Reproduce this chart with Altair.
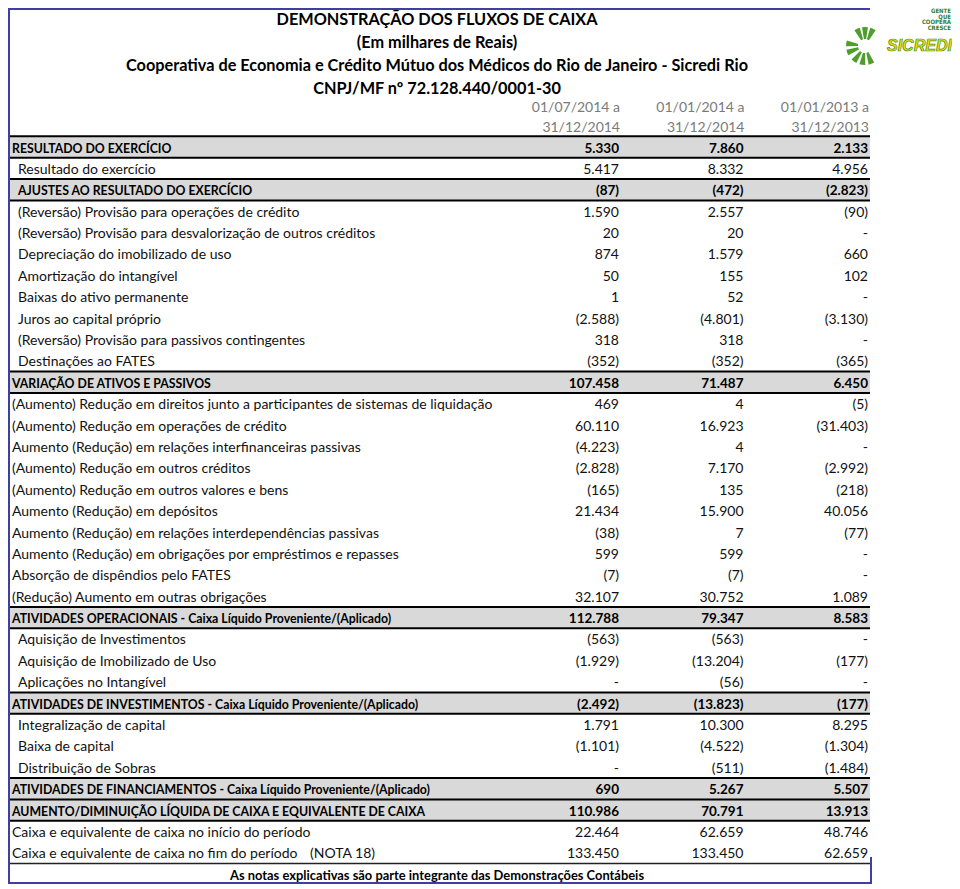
import altair as alt
import pandas as pd

# ---------------- data ----------------
TITLE_LINES = [
    "DEMONSTRAÇÃO DOS FLUXOS DE CAIXA",
    "(Em milhares de Reais)",
    "Cooperativa de Economia e Crédito Mútuo dos Médicos do Rio de Janeiro - Sicredi Rio",
    "CNPJ/MF nº 72.128.440/0001-30",
]
PERIOD_START = ["01/07/2014 a", "01/01/2014 a", "01/01/2013 a"]
PERIOD_END = ["31/12/2014", "31/12/2014", "31/12/2013"]

LABELS = [
    "RESULTADO DO EXERCÍCIO",
    "Resultado do exercício",
    "AJUSTES AO RESULTADO DO EXERCÍCIO",
    "(Reversão) Provisão para operações de crédito",
    "(Reversão) Provisão para desvalorização de outros créditos",
    "Depreciação do imobilizado de uso",
    "Amortização do intangível",
    "Baixas do ativo permanente",
    "Juros ao capital próprio",
    "(Reversão) Provisão para passivos contingentes",
    "Destinações ao FATES",
    "VARIAÇÃO DE ATIVOS E PASSIVOS",
    "(Aumento) Redução em direitos junto a participantes de sistemas de liquidação",
    "(Aumento) Redução em operações de crédito",
    "Aumento (Redução) em relações interfinanceiras passivas",
    "(Aumento) Redução em outros créditos",
    "(Aumento) Redução em outros valores e bens",
    "Aumento (Redução) em depósitos",
    "Aumento (Redução) em relações interdependências passivas",
    "Aumento (Redução) em obrigações por empréstimos e repasses",
    "Absorção de dispêndios pelo FATES",
    "(Redução) Aumento em outras obrigações",
    "ATIVIDADES OPERACIONAIS - Caixa Líquido Proveniente/(Aplicado)",
    "Aquisição de Investimentos",
    "Aquisição de Imobilizado de Uso",
    "Aplicações no Intangível",
    "ATIVIDADES DE INVESTIMENTOS - Caixa Líquido Proveniente/(Aplicado)",
    "Integralização de capital",
    "Baixa de capital",
    "Distribuição de Sobras",
    "ATIVIDADES DE FINANCIAMENTOS - Caixa Líquido Proveniente/(Aplicado)",
    "AUMENTO/DIMINUIÇÃO LÍQUIDA DE CAIXA E EQUIVALENTE DE CAIXA",
    "Caixa e equivalente de caixa no início do período",
    "Caixa e equivalente de caixa no fim do período",
]
COL_2S2014 = ["5.330", "5.417", "(87)", "1.590", "20", "874", "50", "1", "(2.588)", "318", "(352)",
              "107.458", "469", "60.110", "(4.223)", "(2.828)", "(165)", "21.434", "(38)", "599", "(7)", "32.107",
              "112.788", "(563)", "(1.929)", "-", "(2.492)", "1.791", "(1.101)", "-", "690", "110.986",
              "22.464", "133.450"]
COL_2014 = ["7.860", "8.332", "(472)", "2.557", "20", "1.579", "155", "52", "(4.801)", "318", "(352)",
            "71.487", "4", "16.923", "4", "7.170", "135", "15.900", "7", "599", "(7)", "30.752",
            "79.347", "(563)", "(13.204)", "(56)", "(13.823)", "10.300", "(4.522)", "(511)", "5.267", "70.791",
            "62.659", "133.450"]
COL_2013 = ["2.133", "4.956", "(2.823)", "(90)", "-", "660", "102", "-", "(3.130)", "-", "(365)",
            "6.450", "(5)", "(31.403)", "-", "(2.992)", "(218)", "40.056", "(77)", "-", "-", "1.089",
            "8.583", "-", "(177)", "-", "(177)", "8.295", "(1.304)", "(1.484)", "5.507", "13.913",
            "48.746", "62.659"]
SUBTOTAL_ROWS = [0, 2, 11, 22, 26, 30, 31]
INDENTED_ROWS = [1, 2, 3, 4, 5, 6, 7, 8, 9, 10, 23, 24, 25, 27, 28, 29]
NOTE_ROW = 33
NOTE_TEXT = "(NOTA 18)"
FOOTNOTE = "As notas explicativas são parte integrante das Demonstrações Contábeis"
SLOGAN = ["GENTE", "QUE", "COOPERA", "CRESCE"]
BRAND = "SICREDI"
RAY_ANGLES = [335, 0, 25, 250, 278, 160, 188, 216]

# ---------------- style ----------------
FONT = "Lato, sans-serif"
FS = 14
FS_BOLD_LABEL = 12.3
FS_BOLD_VAL = 13.5
DY = 1.5
TEXT_COLOR = "#111111"
BAND_FILL = "#d9d9d9"
BLUE = "#3f3f9f"
GREEN = "#4f9d2d"
DASH_PAD = {"c1": "\u00a0\u00a0\u00a0", "c2": "\u00a0\u00a0", "c3": "\u00a0"}
N_ROWS = len(LABELS)

ROW_SCALE = alt.Scale(domain=[0, 33], range=[139, 844.9], zero=False, nice=False)
COL_SCALE = alt.Scale(type="point", domain=["c1", "c2", "c3"], range=[611, 860], padding=0)
HEAD_COL_SCALE = alt.Scale(type="point", domain=["c1", "c2", "c3"], range=[612, 861], padding=0)
INDENT_SCALE = alt.Scale(type="point", domain=["a", "b"], range=[4, 10], padding=0)

# ---------------- tables ----------------
rows = pd.DataFrame({
    "row": list(range(N_ROWS)),
    "label": LABELS,
    "bold": [i in SUBTOTAL_ROWS for i in range(N_ROWS)],
    "indent": ["b" if i in INDENTED_ROWS else "a" for i in range(N_ROWS)],
})


def fmt(v, col):
    if v.endswith(")"):
        return v
    if v == "-":
        return v + DASH_PAD[col]
    return v + "\u00a0"


vals = []
for col, series in (("c1", COL_2S2014), ("c2", COL_2014), ("c3", COL_2013)):
    for i, v in enumerate(series):
        vals.append({"row": i, "col": col, "text": fmt(v, col), "bold": i in SUBTOTAL_ROWS})
vals = pd.DataFrame(vals)

bands = pd.DataFrame({"r0": [r - 0.5 for r in SUBTOTAL_ROWS], "r1": [r + 0.5 for r in SUBTOTAL_ROWS]})
line_pos = sorted(set([r - 0.5 for r in SUBTOTAL_ROWS] + [r + 0.5 for r in SUBTOTAL_ROWS]))
lines = pd.DataFrame({"y": line_pos})
foot_line = pd.DataFrame({"y": [NOTE_ROW + 0.5]})

title_df = pd.DataFrame({"i": list(range(len(TITLE_LINES))), "t": TITLE_LINES})
period_df = pd.DataFrame(
    [{"i": 0, "col": c, "t": t} for c, t in zip(["c1", "c2", "c3"], PERIOD_START)]
    + [{"i": 1, "col": c, "t": t} for c, t in zip(["c1", "c2", "c3"], PERIOD_END)]
)

# ---------------- layers ----------------
Y = alt.Y("row:Q", scale=ROW_SCALE, axis=None)

band_layer = alt.Chart(bands).mark_rect(color=BAND_FILL).encode(
    x=alt.value(0), x2=alt.value(862),
    y=alt.Y("r0:Q", scale=ROW_SCALE, axis=None), y2="r1:Q")

line_layer = alt.Chart(lines).mark_rule(color="#000000", strokeWidth=2).encode(
    x=alt.value(0), x2=alt.value(862), y=alt.Y("y:Q", scale=ROW_SCALE, axis=None))

foot_line_layer = alt.Chart(foot_line).mark_rule(color="#222222", strokeWidth=1.5).encode(
    x=alt.value(0), x2=alt.value(862), y=alt.Y("y:Q", scale=ROW_SCALE, axis=None))

frame = pd.DataFrame({"k": [0]})


def border(x0, x1, y0, y1):
    return alt.Chart(frame).mark_rect(color=BLUE).encode(
        x=alt.value(x0), x2=alt.value(x1), y=alt.value(y0), y2=alt.value(y1))


top_border = border(0, 862, 0, 2)
left_border = border(0, 2, 0, 876)
bottom_border = border(0, 864, 874, 876)
right_border = border(862, 864, 849, 876)

label_reg = alt.Chart(rows[~rows.bold]).mark_text(
    align="left", baseline="middle", dy=DY, font=FONT, fontSize=FS, color=TEXT_COLOR).encode(
    x=alt.X("indent:N", scale=INDENT_SCALE, axis=None), y=Y, text="label:N")
label_bold = alt.Chart(rows[rows.bold]).mark_text(
    align="left", baseline="middle", dy=DY, font=FONT, fontSize=FS_BOLD_LABEL, fontWeight="bold",
    color="#000000").encode(
    x=alt.X("indent:N", scale=INDENT_SCALE, axis=None), y=Y, text="label:N")

val_reg = alt.Chart(vals[~vals.bold]).mark_text(
    align="right", baseline="middle", dy=DY, font=FONT, fontSize=FS, color=TEXT_COLOR).encode(
    x=alt.X("col:N", scale=COL_SCALE, axis=None), y=Y, text="text:N")
val_bold = alt.Chart(vals[vals.bold]).mark_text(
    align="right", baseline="middle", dy=DY, font=FONT, fontSize=FS_BOLD_VAL, fontWeight="bold",
    color="#000000").encode(
    x=alt.X("col:N", scale=COL_SCALE, axis=None), y=Y, text="text:N")

note_layer = alt.Chart(pd.DataFrame({"row": [NOTE_ROW], "t": [NOTE_TEXT]})).mark_text(
    align="left", baseline="middle", dy=DY, font=FONT, fontSize=FS, color=TEXT_COLOR).encode(
    x=alt.value(302), y=Y, text="t:N")

foot_layer = alt.Chart(pd.DataFrame({"row": [NOTE_ROW + 1], "t": [FOOTNOTE]})).mark_text(
    align="center", baseline="middle", dy=DY, font=FONT, fontSize=12.9, fontWeight="bold",
    color="#000000").encode(
    x=alt.value(429), y=Y, text="t:N")

title_layer = alt.Chart(title_df).mark_text(
    align="center", baseline="middle", font=FONT, fontSize=16.3, fontWeight="bold", color="#000000").encode(
    x=alt.value(429),
    y=alt.Y("i:Q", scale=alt.Scale(domain=[0, 3], range=[12, 81], zero=False, nice=False), axis=None),
    text="t:N")

period_layer = alt.Chart(period_df).mark_text(
    align="right", baseline="middle", dy=DY, font=FONT, fontSize=FS, color="#7a7a7a").encode(
    x=alt.X("col:N", scale=HEAD_COL_SCALE, axis=None),
    y=alt.Y("i:Q", scale=alt.Scale(domain=[0, 1], range=[98, 118], zero=False, nice=False), axis=None),
    text="t:N")

# ---------------- logo ----------------
rays = pd.DataFrame({"a0": [a - 9 for a in RAY_ANGLES], "a1": [a + 9 for a in RAY_ANGLES]})
THETA = alt.Scale(domain=[0, 360], range=[0, 6.283185307], zero=False, nice=False)
ray_layer = alt.Chart(rays).mark_arc(color=GREEN).encode(
    theta=alt.Theta("a0:Q", scale=THETA), theta2="a1:Q",
    radius=alt.value(19), radius2=alt.value(7),
    x=alt.value(857), y=alt.value(38))

slogan_df = pd.DataFrame({"i": list(range(len(SLOGAN))), "t": SLOGAN})
slogan_layer = alt.Chart(slogan_df).mark_text(
    align="right", baseline="middle", font="DejaVu Sans Condensed, sans-serif",
    fontSize=6, fontWeight="bold", color="#2f7d32").encode(
    x=alt.value(943),
    y=alt.Y("i:Q", scale=alt.Scale(domain=[0, 3], range=[3, 20], zero=False, nice=False), axis=None),
    text="t:N")

brand_layer = alt.Chart(pd.DataFrame({"t": [BRAND]})).mark_text(
    align="left", baseline="middle", font="Liberation Sans, sans-serif", fontSize=16,
    fontWeight="bold", fontStyle="italic", color="#f0e000", stroke="#3f8f2a", strokeWidth=0.7).encode(
    x=alt.value(879), y=alt.value(38), text="t:N")

chart = alt.layer(
    band_layer, line_layer, foot_line_layer,
    top_border, left_border, bottom_border, right_border,
    title_layer, period_layer,
    label_reg, label_bold, val_reg, val_bold, note_layer, foot_layer,
    ray_layer, slogan_layer, brand_layer,
).resolve_scale(
    x="independent", y="independent"
).properties(
    width=944, height=878, padding=0, autosize="none", background="#ffffff"
).configure_view(stroke=None)

chart.save("out.html", embed_options={"renderer": "svg", "actions": False})
